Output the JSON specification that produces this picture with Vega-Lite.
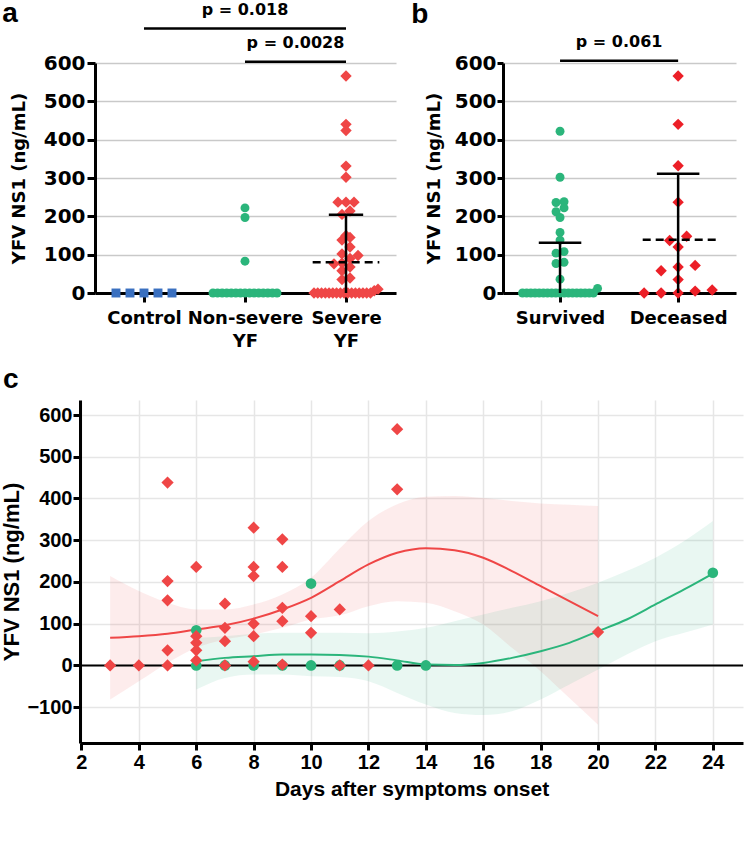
{
  "$schema": "https://vega.github.io/schema/vega-lite/v6.json",
  "padding": {"left": 0, "top": 0, "right": 0, "bottom": 70},
  "spacing": 16,
  "resolve": {"scale": {"color": "independent", "shape": "independent", "size": "independent", "fill": "independent", "stroke": "independent", "x": "independent", "y": "independent"}},
  "datasets": {
    "pa": [
      {"g": "Control", "v": 0}, {"g": "Control", "v": 0}, {"g": "Control", "v": 0}, {"g": "Control", "v": 0}, {"g": "Control", "v": 0},
      {"g": "Non-severe YF", "v": 222}, {"g": "Non-severe YF", "v": 197}, {"g": "Non-severe YF", "v": 83},
      {"g": "Non-severe YF", "v": 0}, {"g": "Non-severe YF", "v": 0}, {"g": "Non-severe YF", "v": 0}, {"g": "Non-severe YF", "v": 0}, {"g": "Non-severe YF", "v": 0},
      {"g": "Non-severe YF", "v": 0}, {"g": "Non-severe YF", "v": 0}, {"g": "Non-severe YF", "v": 0}, {"g": "Non-severe YF", "v": 0}, {"g": "Non-severe YF", "v": 0},
      {"g": "Non-severe YF", "v": 0}, {"g": "Non-severe YF", "v": 0}, {"g": "Non-severe YF", "v": 0}, {"g": "Non-severe YF", "v": 0}, {"g": "Non-severe YF", "v": 0},
      {"g": "Severe YF", "v": 566}, {"g": "Severe YF", "v": 440}, {"g": "Severe YF", "v": 424}, {"g": "Severe YF", "v": 331}, {"g": "Severe YF", "v": 302},
      {"g": "Severe YF", "v": 237}, {"g": "Severe YF", "v": 237}, {"g": "Severe YF", "v": 237}, {"g": "Severe YF", "v": 214}, {"g": "Severe YF", "v": 205},
      {"g": "Severe YF", "v": 150}, {"g": "Severe YF", "v": 145}, {"g": "Severe YF", "v": 138}, {"g": "Severe YF", "v": 120}, {"g": "Severe YF", "v": 102},
      {"g": "Severe YF", "v": 98}, {"g": "Severe YF", "v": 90}, {"g": "Severe YF", "v": 78}, {"g": "Severe YF", "v": 76}, {"g": "Severe YF", "v": 68},
      {"g": "Severe YF", "v": 58}, {"g": "Severe YF", "v": 39}, {"g": "Severe YF", "v": 35}, {"g": "Severe YF", "v": 10}, {"g": "Severe YF", "v": 6},
      {"g": "Severe YF", "v": 0}, {"g": "Severe YF", "v": 0}, {"g": "Severe YF", "v": 0}, {"g": "Severe YF", "v": 0}, {"g": "Severe YF", "v": 0},
      {"g": "Severe YF", "v": 0}, {"g": "Severe YF", "v": 0}, {"g": "Severe YF", "v": 0}, {"g": "Severe YF", "v": 0}, {"g": "Severe YF", "v": 0},
      {"g": "Severe YF", "v": 0}, {"g": "Severe YF", "v": 0}, {"g": "Severe YF", "v": 0}, {"g": "Severe YF", "v": 0}, {"g": "Severe YF", "v": 0},
      {"g": "Severe YF", "v": 0}
    ],
    "pb": [
      {"g": "Survived", "v": 422}, {"g": "Survived", "v": 302}, {"g": "Survived", "v": 238}, {"g": "Survived", "v": 236}, {"g": "Survived", "v": 222},
      {"g": "Survived", "v": 212}, {"g": "Survived", "v": 197}, {"g": "Survived", "v": 158}, {"g": "Survived", "v": 138}, {"g": "Survived", "v": 108},
      {"g": "Survived", "v": 104}, {"g": "Survived", "v": 80}, {"g": "Survived", "v": 77}, {"g": "Survived", "v": 36}, {"g": "Survived", "v": 12},
      {"g": "Survived", "v": 0}, {"g": "Survived", "v": 0}, {"g": "Survived", "v": 0}, {"g": "Survived", "v": 0}, {"g": "Survived", "v": 0},
      {"g": "Survived", "v": 0}, {"g": "Survived", "v": 0}, {"g": "Survived", "v": 0}, {"g": "Survived", "v": 0}, {"g": "Survived", "v": 0},
      {"g": "Survived", "v": 0}, {"g": "Survived", "v": 0}, {"g": "Survived", "v": 0}, {"g": "Survived", "v": 0}, {"g": "Survived", "v": 0},
      {"g": "Survived", "v": 0}, {"g": "Survived", "v": 0}, {"g": "Survived", "v": 0},
      {"g": "Deceased", "v": 566}, {"g": "Deceased", "v": 440}, {"g": "Deceased", "v": 332}, {"g": "Deceased", "v": 237}, {"g": "Deceased", "v": 148},
      {"g": "Deceased", "v": 137}, {"g": "Deceased", "v": 120}, {"g": "Deceased", "v": 72}, {"g": "Deceased", "v": 68}, {"g": "Deceased", "v": 58},
      {"g": "Deceased", "v": 35}, {"g": "Deceased", "v": 8}, {"g": "Deceased", "v": 5}, {"g": "Deceased", "v": 0}, {"g": "Deceased", "v": 0},
      {"g": "Deceased", "v": 0}
    ],
    "stats": [
      {"panel": "a", "g": "Severe YF", "lo": 0, "up": 204, "med": 80},
      {"panel": "b", "g": "Survived", "lo": 0, "up": 131, "med": null},
      {"panel": "b", "g": "Deceased", "lo": 0, "up": 311, "med": 139}
    ],
    "brackets": [
      {"panel": "a", "from": "Control", "to": "Severe YF", "level": 2, "p": "p = 0.018"},
      {"panel": "a", "from": "Non-severe YF", "to": "Severe YF", "level": 1, "p": "p = 0.0028"},
      {"panel": "b", "from": "Survived", "to": "Deceased", "level": 1, "p": "p = 0.061"}
    ],
    "zero": [{"v": 0}],
    "pc": [
      {"g": "Non-severe YF", "day": 6, "v": 0}, {"g": "Non-severe YF", "day": 6, "v": 84}, {"g": "Non-severe YF", "day": 7, "v": 0},
      {"g": "Non-severe YF", "day": 8, "v": 0}, {"g": "Non-severe YF", "day": 9, "v": 0}, {"g": "Non-severe YF", "day": 10, "v": 0},
      {"g": "Non-severe YF", "day": 10, "v": 196}, {"g": "Non-severe YF", "day": 11, "v": 0}, {"g": "Non-severe YF", "day": 13, "v": 0},
      {"g": "Non-severe YF", "day": 14, "v": 0}, {"g": "Non-severe YF", "day": 24, "v": 222},
      {"g": "Severe YF", "day": 3, "v": 0}, {"g": "Severe YF", "day": 4, "v": 0},
      {"g": "Severe YF", "day": 5, "v": 438}, {"g": "Severe YF", "day": 5, "v": 202}, {"g": "Severe YF", "day": 5, "v": 156}, {"g": "Severe YF", "day": 5, "v": 36}, {"g": "Severe YF", "day": 5, "v": 0},
      {"g": "Severe YF", "day": 6, "v": 236}, {"g": "Severe YF", "day": 6, "v": 70}, {"g": "Severe YF", "day": 6, "v": 54}, {"g": "Severe YF", "day": 6, "v": 36}, {"g": "Severe YF", "day": 6, "v": 12},
      {"g": "Severe YF", "day": 7, "v": 148}, {"g": "Severe YF", "day": 7, "v": 90}, {"g": "Severe YF", "day": 7, "v": 58}, {"g": "Severe YF", "day": 7, "v": 0},
      {"g": "Severe YF", "day": 8, "v": 330}, {"g": "Severe YF", "day": 8, "v": 236}, {"g": "Severe YF", "day": 8, "v": 214}, {"g": "Severe YF", "day": 8, "v": 100}, {"g": "Severe YF", "day": 8, "v": 70}, {"g": "Severe YF", "day": 8, "v": 9},
      {"g": "Severe YF", "day": 9, "v": 302}, {"g": "Severe YF", "day": 9, "v": 236}, {"g": "Severe YF", "day": 9, "v": 138}, {"g": "Severe YF", "day": 9, "v": 106}, {"g": "Severe YF", "day": 9, "v": 2},
      {"g": "Severe YF", "day": 10, "v": 118}, {"g": "Severe YF", "day": 10, "v": 78},
      {"g": "Severe YF", "day": 11, "v": 134}, {"g": "Severe YF", "day": 11, "v": 0},
      {"g": "Severe YF", "day": 12, "v": 0},
      {"g": "Severe YF", "day": 13, "v": 566}, {"g": "Severe YF", "day": 13, "v": 422},
      {"g": "Severe YF", "day": 20, "v": 80}
    ],
    "fit": [
      {"g": "Severe YF", "day": 3, "fit": 66, "lo": -82, "hi": 214},
      {"g": "Severe YF", "day": 4, "fit": 70, "lo": -38, "hi": 178},
      {"g": "Severe YF", "day": 5, "fit": 76, "lo": 6, "hi": 150},
      {"g": "Severe YF", "day": 6, "fit": 86, "lo": 42, "hi": 134},
      {"g": "Severe YF", "day": 7, "fit": 96, "lo": 62, "hi": 134},
      {"g": "Severe YF", "day": 8, "fit": 112, "lo": 74, "hi": 146},
      {"g": "Severe YF", "day": 9, "fit": 134, "lo": 90, "hi": 170},
      {"g": "Severe YF", "day": 10, "fit": 162, "lo": 110, "hi": 210},
      {"g": "Severe YF", "day": 11, "fit": 202, "lo": 120, "hi": 280},
      {"g": "Severe YF", "day": 12, "fit": 242, "lo": 142, "hi": 346},
      {"g": "Severe YF", "day": 13, "fit": 270, "lo": 154, "hi": 386},
      {"g": "Severe YF", "day": 14, "fit": 281, "lo": 150, "hi": 404},
      {"g": "Severe YF", "day": 15, "fit": 276, "lo": 130, "hi": 406},
      {"g": "Severe YF", "day": 16, "fit": 258, "lo": 98, "hi": 401},
      {"g": "Severe YF", "day": 17, "fit": 226, "lo": 42, "hi": 394},
      {"g": "Severe YF", "day": 18, "fit": 190, "lo": -14, "hi": 388},
      {"g": "Severe YF", "day": 19, "fit": 154, "lo": -78, "hi": 385},
      {"g": "Severe YF", "day": 20, "fit": 118, "lo": -142, "hi": 382},
      {"g": "Non-severe YF", "day": 6, "fit": 10, "lo": -58, "hi": 66},
      {"g": "Non-severe YF", "day": 7, "fit": 18, "lo": -30, "hi": 70},
      {"g": "Non-severe YF", "day": 8, "fit": 22, "lo": -22, "hi": 76},
      {"g": "Non-severe YF", "day": 9, "fit": 26, "lo": -22, "hi": 78},
      {"g": "Non-severe YF", "day": 10, "fit": 26, "lo": -26, "hi": 78},
      {"g": "Non-severe YF", "day": 11, "fit": 25, "lo": -28, "hi": 78},
      {"g": "Non-severe YF", "day": 12, "fit": 21, "lo": -38, "hi": 77},
      {"g": "Non-severe YF", "day": 13, "fit": 12, "lo": -66, "hi": 81},
      {"g": "Non-severe YF", "day": 14, "fit": 2, "lo": -94, "hi": 90},
      {"g": "Non-severe YF", "day": 15, "fit": 1, "lo": -114, "hi": 106},
      {"g": "Non-severe YF", "day": 16, "fit": 6, "lo": -119, "hi": 122},
      {"g": "Non-severe YF", "day": 17, "fit": 18, "lo": -110, "hi": 138},
      {"g": "Non-severe YF", "day": 18, "fit": 34, "lo": -82, "hi": 154},
      {"g": "Non-severe YF", "day": 19, "fit": 54, "lo": -46, "hi": 174},
      {"g": "Non-severe YF", "day": 20, "fit": 82, "lo": -10, "hi": 198},
      {"g": "Non-severe YF", "day": 21, "fit": 110, "lo": 26, "hi": 226},
      {"g": "Non-severe YF", "day": 22, "fit": 146, "lo": 58, "hi": 258},
      {"g": "Non-severe YF", "day": 23, "fit": 182, "lo": 78, "hi": 298},
      {"g": "Non-severe YF", "day": 24, "fit": 220, "lo": 98, "hi": 346}
    ]
  },
  "vconcat": [
    {
      "bounds": "flush",
      "spacing": 0,
      "resolve": {"scale": {"color": "independent", "shape": "independent", "size": "independent", "x": "independent", "y": "independent"}},
      "hconcat": [
        {"width": 15, "height": 230, "data": {"name": "zero"}, "mark": {"type": "point", "opacity": 0}, "encoding": {}},
        {
          "bounds": "flush",
          "spacing": 107,
          "resolve": {"scale": {"color": "independent", "shape": "independent", "size": "independent", "x": "independent", "y": "independent"}},
          "hconcat": [
            {
              "width": 301,
              "height": 230,
              "title": {"text": "a", "anchor": "start", "frame": "bounds", "font": "Liberation Sans", "fontSize": 28, "fontWeight": "bold", "color": "black", "baseline": "alphabetic", "offset": -22, "dx": -8, "dy": 26},
              "layer": [
                {
                  "data": {"name": "pa"},
                  "transform": [
                    {"calculate": "indexof(['Control','Non-severe YF','Severe YF'], datum.g) + 1", "as": "cat"},
                    {"calculate": "floor(datum.v / 25)", "as": "bin"},
                    {"window": [{"op": "row_number", "as": "i"}, {"op": "count", "as": "n"}], "groupby": ["g", "bin"], "sort": [{"field": "v", "order": "ascending"}], "frame": [null, null]},
                    {"calculate": "datum.n > 6 ? 64 / (datum.n - 1) : (datum.g == 'Control' ? 14 : 8)", "as": "step"},
                    {"calculate": "datum.cat + ((datum.i - 1) - (datum.n - 1) / 2) * datum.step / 101", "as": "xp"}
                  ],
                  "mark": {"type": "point", "filled": true, "opacity": 1},
                  "encoding": {
                    "x": {"field": "xp", "type": "quantitative", "title": null,
                      "scale": {"domain": [0.515, 3.495], "nice": false, "zero": false},
                      "axis": {"values": [1, 2, 3], "labelExpr": "datum.value == 1 ? 'Control' : datum.value == 2 ? ['Non-severe', 'YF'] : ['Severe', 'YF']",
                        "grid": false, "domainWidth": 3, "tickWidth": 3, "tickSize": 9, "labelFont": "DejaVu Sans", "labelFontSize": 18,
                        "labelPadding": 7, "labelLineHeight": 23, "labelFlush": false, "labelOverlap": false}},
                    "y": {"field": "v", "type": "quantitative", "title": "YFV NS1 (ng/mL)",
                      "scale": {"domain": [0, 600], "nice": false},
                      "axis": {"values": [0, 100, 200, 300, 400, 500, 600], "tickCount": 7, "grid": true, "gridColor": "#c9c9c9", "gridWidth": 1.3, "labelOverlap": false,
                        "domainWidth": 3, "tickWidth": 3, "tickSize": 8, "labelPadding": 2, "labelFont": "DejaVu Sans", "labelFontSize": 20,
                        "titleFont": "DejaVu Sans", "titleFontSize": 18, "titlePadding": 15}},
                    "color": {"field": "g", "type": "nominal", "scale": {"domain": ["Control", "Non-severe YF", "Severe YF"], "range": ["#3a70c0", "#2bb57b", "#ef4646"]}, "legend": null},
                    "shape": {"field": "g", "type": "nominal", "scale": {"domain": ["Control", "Non-severe YF", "Severe YF"], "range": ["square", "circle", "diamond"]}, "legend": null},
                    "size": {"condition": {"test": "datum.g == 'Severe YF'", "value": 130}, "value": 80}
                  }
                },
                {
                  "data": {"name": "stats"},
                  "transform": [
                    {"filter": "datum.panel == 'a'"},
                    {"calculate": "indexof(['Control','Non-severe YF','Severe YF'], datum.g) + 1", "as": "cat"}
                  ],
                  "mark": {"type": "rule", "color": "black", "strokeWidth": 2.5},
                  "encoding": {
                    "x": {"field": "cat", "type": "quantitative", "title": null},
                    "y": {"field": "lo", "type": "quantitative", "title": "YFV NS1 (ng/mL)"},
                    "y2": {"field": "up"}
                  }
                },
                {
                  "data": {"name": "stats"},
                  "transform": [
                    {"filter": "datum.panel == 'a'"},
                    {"calculate": "indexof(['Control','Non-severe YF','Severe YF'], datum.g) + 1", "as": "cat"},
                    {"calculate": "datum.cat - 0.17", "as": "xa"},
                    {"calculate": "datum.cat + 0.17", "as": "xb"}
                  ],
                  "mark": {"type": "rule", "color": "black", "strokeWidth": 2.5},
                  "encoding": {
                    "x": {"field": "xa", "type": "quantitative", "title": null},
                    "x2": {"field": "xb"},
                    "y": {"field": "up", "type": "quantitative", "title": "YFV NS1 (ng/mL)"}
                  }
                },
                {
                  "data": {"name": "stats"},
                  "transform": [
                    {"filter": "datum.panel == 'a' && datum.med != null"},
                    {"calculate": "indexof(['Control','Non-severe YF','Severe YF'], datum.g) + 1", "as": "cat"},
                    {"calculate": "datum.cat - 0.33", "as": "xa"},
                    {"calculate": "datum.cat + 0.33", "as": "xb"}
                  ],
                  "mark": {"type": "rule", "color": "black", "strokeWidth": 2.5, "strokeDash": [8, 5]},
                  "encoding": {
                    "x": {"field": "xa", "type": "quantitative", "title": null},
                    "x2": {"field": "xb"},
                    "y": {"field": "med", "type": "quantitative", "title": "YFV NS1 (ng/mL)"}
                  }
                },
                {
                  "data": {"name": "brackets"},
                  "transform": [
                    {"filter": "datum.panel == 'a'"},
                    {"calculate": "indexof(['Control','Non-severe YF','Severe YF'], datum.from) + 1", "as": "c1"},
                    {"calculate": "indexof(['Control','Non-severe YF','Severe YF'], datum.to) + 1", "as": "c2"},
                    {"calculate": "datum.level == 2 ? 690 : 603", "as": "by"}
                  ],
                  "mark": {"type": "rule", "color": "black", "strokeWidth": 2.5},
                  "encoding": {
                    "x": {"field": "c1", "type": "quantitative", "title": null},
                    "x2": {"field": "c2"},
                    "y": {"field": "by", "type": "quantitative", "title": "YFV NS1 (ng/mL)"}
                  }
                },
                {
                  "data": {"name": "brackets"},
                  "transform": [
                    {"filter": "datum.panel == 'a'"},
                    {"calculate": "(indexof(['Control','Non-severe YF','Severe YF'], datum.from) + indexof(['Control','Non-severe YF','Severe YF'], datum.to)) / 2 + 1", "as": "cm"},
                    {"calculate": "datum.level == 2 ? 738 : 651", "as": "ty"}
                  ],
                  "mark": {"type": "text", "font": "DejaVu Sans", "fontWeight": "bold", "fontSize": 16, "color": "black", "align": "center", "baseline": "middle"},
                  "encoding": {
                    "x": {"field": "cm", "type": "quantitative", "title": null},
                    "y": {"field": "ty", "type": "quantitative", "title": "YFV NS1 (ng/mL)"},
                    "text": {"field": "p", "type": "nominal"}
                  }
                }
              ]
            },
            {
              "width": 233,
              "height": 230,
              "title": {"text": "b", "anchor": "start", "frame": "bounds", "font": "Liberation Sans", "fontSize": 28, "fontWeight": "bold", "color": "black", "baseline": "alphabetic", "offset": 10, "dx": -14, "dy": 27},
              "layer": [
                {
                  "data": {"name": "pb"},
                  "transform": [
                    {"calculate": "indexof(['Survived','Deceased'], datum.g) + 1", "as": "cat"},
                    {"calculate": "floor(datum.v / 25)", "as": "bin"},
                    {"window": [{"op": "row_number", "as": "i"}, {"op": "count", "as": "n"}], "groupby": ["g", "bin"], "sort": [{"field": "v", "order": "ascending"}], "frame": [null, null]},
                    {"calculate": "datum.n > 6 ? 75 / (datum.n - 1) : (datum.g == 'Deceased' ? 17 : 8)", "as": "step"},
                    {"calculate": "datum.cat + ((datum.i - 1) - (datum.n - 1) / 2) * datum.step / 118", "as": "xp"}
                  ],
                  "mark": {"type": "point", "filled": true, "opacity": 1},
                  "encoding": {
                    "x": {"field": "xp", "type": "quantitative", "title": null,
                      "scale": {"domain": [0.517, 2.49], "nice": false, "zero": false},
                      "axis": {"values": [1, 2], "labelExpr": "datum.value == 1 ? 'Survived' : 'Deceased'",
                        "grid": false, "domainWidth": 3, "tickWidth": 3, "tickSize": 9, "labelFont": "DejaVu Sans", "labelFontSize": 18,
                        "labelPadding": 7, "labelFlush": false, "labelOverlap": false}},
                    "y": {"field": "v", "type": "quantitative", "title": "YFV NS1 (ng/mL)",
                      "scale": {"domain": [0, 600], "nice": false},
                      "axis": {"values": [0, 100, 200, 300, 400, 500, 600], "tickCount": 7, "grid": true, "gridColor": "#c9c9c9", "gridWidth": 1.3, "labelOverlap": false,
                        "domainWidth": 3, "tickWidth": 3, "tickSize": 6, "labelPadding": 1, "labelFont": "DejaVu Sans", "labelFontSize": 20,
                        "titleFont": "DejaVu Sans", "titleFontSize": 18, "titlePadding": 11}},
                    "color": {"field": "g", "type": "nominal", "scale": {"domain": ["Survived", "Deceased"], "range": ["#2bb57b", "#ec1f27"]}, "legend": null},
                    "shape": {"field": "g", "type": "nominal", "scale": {"domain": ["Survived", "Deceased"], "range": ["circle", "diamond"]}, "legend": null},
                    "size": {"condition": {"test": "datum.g == 'Deceased'", "value": 130}, "value": 80}
                  }
                },
                {
                  "data": {"name": "stats"},
                  "transform": [
                    {"filter": "datum.panel == 'b'"},
                    {"calculate": "indexof(['Survived','Deceased'], datum.g) + 1", "as": "cat"}
                  ],
                  "mark": {"type": "rule", "color": "black", "strokeWidth": 2.5},
                  "encoding": {
                    "x": {"field": "cat", "type": "quantitative", "title": null},
                    "y": {"field": "lo", "type": "quantitative", "title": "YFV NS1 (ng/mL)"},
                    "y2": {"field": "up"}
                  }
                },
                {
                  "data": {"name": "stats"},
                  "transform": [
                    {"filter": "datum.panel == 'b'"},
                    {"calculate": "indexof(['Survived','Deceased'], datum.g) + 1", "as": "cat"},
                    {"calculate": "datum.cat - 0.18", "as": "xa"},
                    {"calculate": "datum.cat + 0.18", "as": "xb"}
                  ],
                  "mark": {"type": "rule", "color": "black", "strokeWidth": 2.5},
                  "encoding": {
                    "x": {"field": "xa", "type": "quantitative", "title": null},
                    "x2": {"field": "xb"},
                    "y": {"field": "up", "type": "quantitative", "title": "YFV NS1 (ng/mL)"}
                  }
                },
                {
                  "data": {"name": "stats"},
                  "transform": [
                    {"filter": "datum.panel == 'b' && datum.med != null"},
                    {"calculate": "indexof(['Survived','Deceased'], datum.g) + 1", "as": "cat"},
                    {"calculate": "datum.cat - 0.3", "as": "xa"},
                    {"calculate": "datum.cat + 0.32", "as": "xb"}
                  ],
                  "mark": {"type": "rule", "color": "black", "strokeWidth": 2.5, "strokeDash": [8, 5]},
                  "encoding": {
                    "x": {"field": "xa", "type": "quantitative", "title": null},
                    "x2": {"field": "xb"},
                    "y": {"field": "med", "type": "quantitative", "title": "YFV NS1 (ng/mL)"}
                  }
                },
                {
                  "data": {"name": "brackets"},
                  "transform": [
                    {"filter": "datum.panel == 'b'"},
                    {"calculate": "indexof(['Survived','Deceased'], datum.from) + 1", "as": "c1"},
                    {"calculate": "indexof(['Survived','Deceased'], datum.to) + 1", "as": "c2"},
                    {"calculate": "datum.level == 2 ? 690 : 606", "as": "by"}
                  ],
                  "mark": {"type": "rule", "color": "black", "strokeWidth": 2.5},
                  "encoding": {
                    "x": {"field": "c1", "type": "quantitative", "title": null},
                    "x2": {"field": "c2"},
                    "y": {"field": "by", "type": "quantitative", "title": "YFV NS1 (ng/mL)"}
                  }
                },
                {
                  "data": {"name": "brackets"},
                  "transform": [
                    {"filter": "datum.panel == 'b'"},
                    {"calculate": "(indexof(['Survived','Deceased'], datum.from) + indexof(['Survived','Deceased'], datum.to)) / 2 + 1", "as": "cm"},
                    {"calculate": "datum.level == 2 ? 738 : 655", "as": "ty"}
                  ],
                  "mark": {"type": "text", "font": "DejaVu Sans", "fontWeight": "bold", "fontSize": 16, "color": "black", "align": "center", "baseline": "middle"},
                  "encoding": {
                    "x": {"field": "cm", "type": "quantitative", "title": null},
                    "y": {"field": "ty", "type": "quantitative", "title": "YFV NS1 (ng/mL)"},
                    "text": {"field": "p", "type": "nominal"}
                  }
                }
              ]
            }
          ]
        }
      ]
    },
    {
      "width": 663,
      "height": 343,
      "title": {"text": "c", "anchor": "start", "frame": "bounds", "font": "Liberation Sans", "fontSize": 28, "fontWeight": "bold", "color": "black", "offset": 6, "dx": 2},
      "layer": [
        {
          "data": {"name": "fit"},
          "mark": {"type": "area", "opacity": 0.1, "interpolate": "monotone"},
          "encoding": {
            "x": {"field": "day", "type": "quantitative", "title": "Days after symptoms onset",
              "scale": {"domain": [1.95, 25.05], "nice": false, "zero": false},
              "axis": {"values": [2, 4, 6, 8, 10, 12, 14, 16, 18, 20, 22, 24], "grid": true, "gridColor": "#e6e6e6", "gridWidth": 1.5,
                "domainWidth": 3, "tickWidth": 3, "tickSize": 7, "labelFont": "Liberation Sans", "labelFontSize": 20, "labelPadding": 2,
                "titleFont": "Liberation Sans", "titleFontSize": 21, "titlePadding": 6, "labelFlush": false, "labelOverlap": false}},
            "y": {"field": "lo", "type": "quantitative", "title": "YFV NS1 (ng/mL)",
              "scale": {"domain": [-186, 636], "nice": false, "zero": false},
              "axis": {"values": [-100, 0, 100, 200, 300, 400, 500, 600], "grid": true, "gridColor": "#e6e6e6", "gridWidth": 1.5, "labelOverlap": false,
                "domainWidth": 3, "tickWidth": 3, "tickSize": 7, "labelFont": "Liberation Sans", "labelFontSize": 20, "labelPadding": 1,
                "titleFont": "Liberation Sans", "titleFontSize": 22, "titlePadding": 3}},
            "y2": {"field": "hi"},
            "color": {"field": "g", "type": "nominal", "scale": {"domain": ["Non-severe YF", "Severe YF"], "range": ["#2bb57b", "#ef4646"]}, "legend": null}
          }
        },
        {
          "data": {"name": "zero"},
          "mark": {"type": "rule", "color": "black", "strokeWidth": 2},
          "encoding": {"y": {"field": "v", "type": "quantitative", "title": "YFV NS1 (ng/mL)"}}
        },
        {
          "data": {"name": "fit"},
          "mark": {"type": "line", "strokeWidth": 2, "interpolate": "monotone"},
          "encoding": {
            "x": {"field": "day", "type": "quantitative", "title": "Days after symptoms onset"},
            "y": {"field": "fit", "type": "quantitative", "title": "YFV NS1 (ng/mL)"},
            "color": {"field": "g", "type": "nominal", "legend": null}
          }
        },
        {
          "data": {"name": "pc"},
          "transform": [{"filter": "datum.g == 'Non-severe YF'"}],
          "mark": {"type": "point", "shape": "circle", "filled": true, "opacity": 1, "size": 113},
          "encoding": {
            "x": {"field": "day", "type": "quantitative", "title": "Days after symptoms onset"},
            "y": {"field": "v", "type": "quantitative", "title": "YFV NS1 (ng/mL)"},
            "color": {"field": "g", "type": "nominal", "legend": null}
          }
        },
        {
          "data": {"name": "pc"},
          "transform": [{"filter": "datum.g == 'Severe YF'"}],
          "mark": {"type": "point", "shape": "diamond", "filled": true, "opacity": 1, "size": 150},
          "encoding": {
            "x": {"field": "day", "type": "quantitative", "title": "Days after symptoms onset"},
            "y": {"field": "v", "type": "quantitative", "title": "YFV NS1 (ng/mL)"},
            "color": {"field": "g", "type": "nominal", "legend": null}
          }
        },
        {
          "data": {"name": "pc"},
          "mark": {"type": "point", "filled": true, "opacity": 0},
          "encoding": {
            "x": {"field": "day", "type": "quantitative", "title": "Days after symptoms onset"},
            "y": {"field": "v", "type": "quantitative", "title": "YFV NS1 (ng/mL)"},
            "fill": {"field": "g", "type": "nominal", "scale": {"domain": ["Non-severe YF", "Severe YF"], "range": ["#2bb57b", "#ef4646"]},
              "legend": {"title": null, "orient": "none", "legendX": 142, "legendY": 432, "direction": "horizontal", "symbolSize": 225, "symbolStrokeWidth": 2.5, "symbolOpacity": 1,
                "labelFont": "Liberation Sans", "labelFontSize": 21, "labelFontWeight": "bold", "labelColor": "black", "labelOffset": 16, "columnPadding": 14, "padding": 0}},
            "stroke": {"field": "g", "type": "nominal", "scale": {"domain": ["Non-severe YF", "Severe YF"], "range": ["#2bb57b", "#ef4646"]},
              "legend": {"title": null, "orient": "none", "legendX": 142, "legendY": 432, "direction": "horizontal", "symbolSize": 225, "symbolStrokeWidth": 2.5, "symbolOpacity": 1,
                "labelFont": "Liberation Sans", "labelFontSize": 21, "labelFontWeight": "bold", "labelColor": "black", "labelOffset": 16, "columnPadding": 14, "padding": 0}},
            "shape": {"field": "g", "type": "nominal", "scale": {"domain": ["Non-severe YF", "Severe YF"], "range": ["M-1.6,0L-0.55,0M0.55,0L1.6,0M0.55,0A0.55,0.55,0,1,1,-0.55,0A0.55,0.55,0,1,1,0.55,0Z", "M-1.6,0L1.6,0M0,-0.62L0.62,0L0,0.62L-0.62,0Z"]},
              "legend": {"title": null, "orient": "none", "legendX": 142, "legendY": 432, "direction": "horizontal", "symbolSize": 225, "symbolStrokeWidth": 2.5, "symbolOpacity": 1,
                "labelFont": "Liberation Sans", "labelFontSize": 21, "labelFontWeight": "bold", "labelColor": "black", "labelOffset": 16, "columnPadding": 14, "padding": 0}}
          }
        }
      ]
    }
  ],
  "config": {
    "view": {"stroke": null},
    "axis": {"domainColor": "black", "tickColor": "black", "labelColor": "black", "titleColor": "black", "labelFontWeight": "bold", "titleFontWeight": "bold"}
  }
}
